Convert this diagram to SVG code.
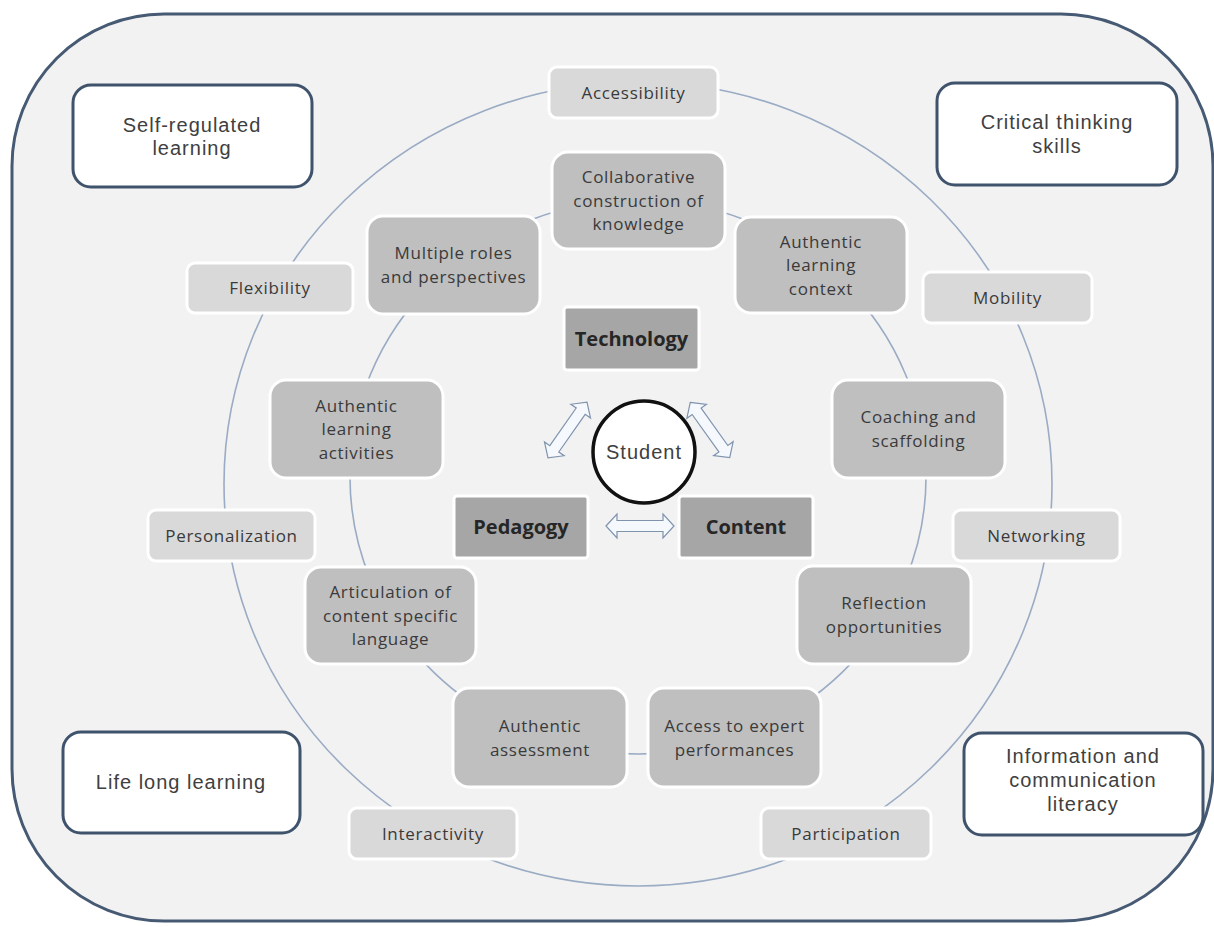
<svg xmlns="http://www.w3.org/2000/svg" width="1214" height="927" viewBox="0 0 1214 927">
<style>
.frame{fill:#f2f2f2;stroke:#475a74;stroke-width:3}
.ring{fill:none;stroke:#9aabc4;stroke-width:1.6}
.corner{fill:#ffffff;stroke:#3f536c;stroke-width:3}
.small{fill:#d9d9d9;stroke:#ffffff;stroke-width:3}
.big{fill:#bfbfbf;stroke:#ffffff;stroke-width:3}
.core{fill:#a6a6a6;stroke:#ffffff;stroke-width:3}
.t{font-family:"Open Sans","Liberation Sans",sans-serif;font-size:17px;fill:#3a3a3a;text-anchor:middle;letter-spacing:0.7px}
.tb{font-family:"Open Sans","Liberation Sans",sans-serif;font-size:20px;font-weight:bold;fill:#262626;text-anchor:middle}
.tc{font-family:"Liberation Sans",Arial,sans-serif;font-size:20px;fill:#404040;text-anchor:middle;letter-spacing:1px}
.arrow{fill:#f5f8fc;stroke:#7f93ad;stroke-width:1.2}
</style>
<defs>
<path id="dbl" d="M-34,0 L-23,-12 L-23,-5.5 L23,-5.5 L23,-12 L34,0 L23,12 L23,5.5 L-23,5.5 L-23,12 Z"/>
</defs>
<rect class="frame" x="12" y="14" width="1201" height="907" rx="152" ry="152"/>
<g id="connectors">
<ellipse class="ring" cx="638" cy="484" rx="414" ry="402"/>
<ellipse class="ring" cx="638" cy="477" rx="288" ry="277"/>
<use href="#dbl" class="arrow" transform="translate(567.5,430) rotate(-55)"/>
<use href="#dbl" class="arrow" transform="translate(710,430) rotate(54.5)"/>
<use href="#dbl" class="arrow" transform="translate(640,526)"/>
</g>
<g id="self-regulated"><rect class="corner" x="73" y="85" width="239" height="102" rx="18"/><text class="tc" x="192" y="132">Self-regulated</text><text class="tc" x="192" y="155">learning</text></g>
<g id="critical-thinking"><rect class="corner" x="937" y="83" width="240" height="102" rx="18"/><text class="tc" x="1057" y="129">Critical thinking</text><text class="tc" x="1057" y="153">skills</text></g>
<g id="life-long"><rect class="corner" x="63" y="732" width="237" height="101" rx="18"/><text class="tc" x="181" y="789">Life long learning</text></g>
<g id="info-literacy"><rect class="corner" x="964" y="733" width="239" height="102" rx="18"/><text class="tc" x="1083" y="763">Information and</text><text class="tc" x="1083" y="787">communication</text><text class="tc" x="1083" y="811">literacy</text></g>
<g id="accessibility"><rect class="small" x="549" y="67" width="169" height="51" rx="8"/><text class="t" x="633.5" y="98.5">Accessibility</text></g>
<g id="flexibility"><rect class="small" x="187" y="263" width="166" height="50" rx="8"/><text class="t" x="270" y="294">Flexibility</text></g>
<g id="mobility"><rect class="small" x="923" y="272" width="169" height="51" rx="8"/><text class="t" x="1007.5" y="303.5">Mobility</text></g>
<g id="personalization"><rect class="small" x="148" y="510" width="167" height="51" rx="8"/><text class="t" x="231.5" y="541.5">Personalization</text></g>
<g id="networking"><rect class="small" x="953" y="510" width="167" height="51" rx="8"/><text class="t" x="1036.5" y="541.5">Networking</text></g>
<g id="interactivity"><rect class="small" x="349" y="808" width="168" height="51" rx="8"/><text class="t" x="433" y="839.5">Interactivity</text></g>
<g id="participation"><rect class="small" x="761" y="808" width="170" height="51" rx="8"/><text class="t" x="846" y="839.5">Participation</text></g>
<g id="collaborative"><rect class="big" x="552" y="152" width="173" height="97" rx="16"/><text class="t" x="638.5" y="183">Collaborative</text><text class="t" x="638.5" y="206.5">construction of</text><text class="t" x="638.5" y="230">knowledge</text></g>
<g id="multiple-roles"><rect class="big" x="367" y="216" width="173" height="98" rx="16"/><text class="t" x="453.5" y="259">Multiple roles</text><text class="t" x="453.5" y="282.5">and perspectives</text></g>
<g id="authentic-context"><rect class="big" x="735" y="217" width="172" height="96" rx="16"/><text class="t" x="821" y="247.5">Authentic</text><text class="t" x="821" y="271">learning</text><text class="t" x="821" y="294.5">context</text></g>
<g id="authentic-activities"><rect class="big" x="270" y="380" width="173" height="98" rx="16"/><text class="t" x="356.5" y="411.5">Authentic</text><text class="t" x="356.5" y="435">learning</text><text class="t" x="356.5" y="458.5">activities</text></g>
<g id="coaching"><rect class="big" x="832" y="380" width="173" height="98" rx="16"/><text class="t" x="918.5" y="423">Coaching and</text><text class="t" x="918.5" y="446.5">scaffolding</text></g>
<g id="articulation"><rect class="big" x="305" y="567" width="171" height="97" rx="16"/><text class="t" x="390.5" y="598">Articulation of</text><text class="t" x="390.5" y="621.5">content specific</text><text class="t" x="390.5" y="645">language</text></g>
<g id="reflection"><rect class="big" x="797" y="566" width="174" height="98" rx="16"/><text class="t" x="884" y="609">Reflection</text><text class="t" x="884" y="632.5">opportunities</text></g>
<g id="authentic-assessment"><rect class="big" x="453" y="688" width="174" height="99" rx="16"/><text class="t" x="540" y="732">Authentic</text><text class="t" x="540" y="755.5">assessment</text></g>
<g id="expert-performances"><rect class="big" x="648" y="688" width="173" height="99" rx="16"/><text class="t" x="734.5" y="732">Access to expert</text><text class="t" x="734.5" y="755.5">performances</text></g>
<g id="technology"><rect class="core" x="564" y="307" width="135" height="63" rx="3"/><text class="tb" x="631.5" y="345.5">Technology</text></g>
<g id="pedagogy"><rect class="core" x="454" y="496" width="134" height="62" rx="3"/><text class="tb" x="521" y="534">Pedagogy</text></g>
<g id="content"><rect class="core" x="679" y="496" width="134" height="62" rx="3"/><text class="tb" x="746" y="534">Content</text></g>
<g id="student"><circle cx="644" cy="452" r="51" fill="#ffffff" stroke="#111111" stroke-width="3.5"/><text class="tc" x="644" y="459" fill="#333333">Student</text></g>
</svg>
